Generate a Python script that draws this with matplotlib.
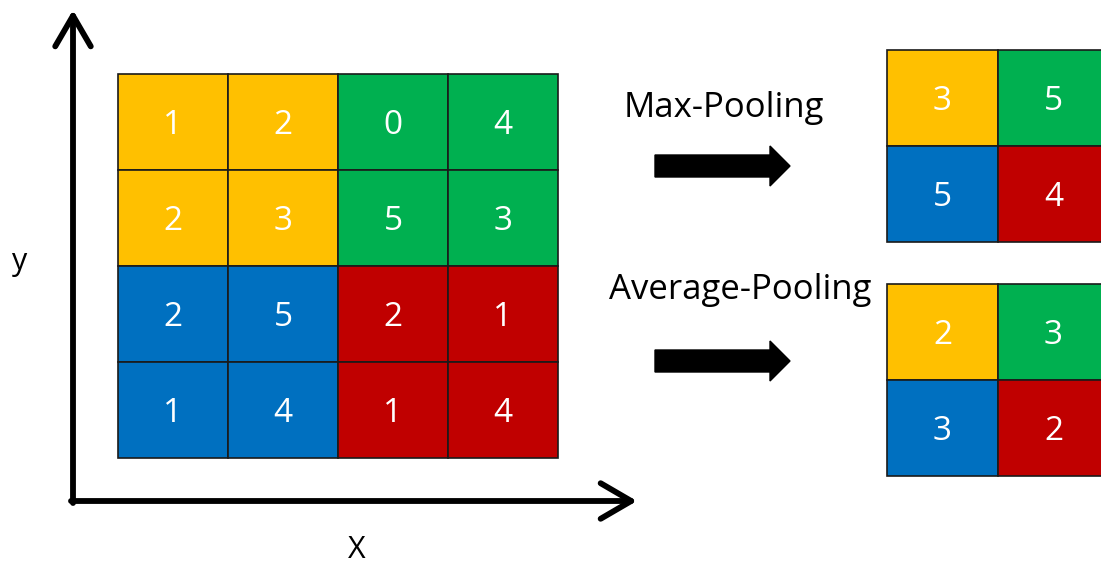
import matplotlib.pyplot as plt
from matplotlib.patches import Rectangle, FancyArrowPatch
import numpy as np

# data
input_values = [
    [1, 2, 0, 4],
    [2, 3, 5, 3],
    [2, 5, 2, 1],
    [1, 4, 1, 4],
]
max_pool_values = [
    [3, 5],
    [5, 4],
]
avg_pool_values = [
    [2, 3],
    [3, 2],
]
quadrant_colors = [
    ["#FFC000", "#00B050"],
    ["#0070C0", "#C00000"],
]
axis_labels = ["X", "y"]
pool_titles = ["Max-Pooling", "Average-Pooling"]

FONT = ["Open Sans", "DejaVu Sans"]
W, H = 1101, 567

fig = plt.figure(figsize=(W / 100, H / 100), dpi=100)
ax = fig.add_axes([0, 0, 1, 1])
ax.set_xlim(0, W)
ax.set_ylim(H, 0)
ax.axis("off")


def draw_grid(values, x0, y0, cw, ch, block):
    values = np.array(values)
    nrows, ncols = values.shape
    for r in range(nrows):
        for c in range(ncols):
            color = quadrant_colors[r // block][c // block]
            ax.add_patch(Rectangle((x0 + c * cw, y0 + r * ch), cw, ch,
                                   facecolor=color, edgecolor="#1a1a1a", linewidth=1.2))
            ax.text(x0 + c * cw + cw / 2, y0 + r * ch + ch / 2 + 3, str(values[r, c]),
                    color="white", fontsize=24, ha="center", va="center", family=FONT)


# input feature map
draw_grid(input_values, 118, 74, 110, 96, 2)
# pooled outputs (right column cut off by the image edge)
draw_grid(max_pool_values, 887, 50, 111, 96, 1)
draw_grid(avg_pool_values, 887, 284, 111, 96, 1)

# coordinate axes
for start, end in [((73, 503), (73, 10)), ((71, 501), (637, 501))]:
    arr = FancyArrowPatch(start, end, arrowstyle="->,head_length=0.55,head_width=0.32",
                          mutation_scale=40, linewidth=4.2, color="black",
                          capstyle="round", joinstyle="round", shrinkA=0, shrinkB=0)
    ax.add_patch(arr)

ax.text(357, 550, axis_labels[0], fontsize=22, ha="center", va="center", family=FONT)
ax.text(20, 262, axis_labels[1], fontsize=22, ha="center", va="center", family=FONT)

# pooling arrows and titles
for title, tx, ty, ay in [(pool_titles[0], 724, 108, 166), (pool_titles[1], 740, 290, 361)]:
    ax.text(tx, ty, title, fontsize=25, ha="center", va="center", family=FONT)
    ax.arrow(655, ay, 115, 0, width=22, head_width=40, head_length=20,
             length_includes_head=False, color="black")

fig.savefig("out.png", dpi=100)
